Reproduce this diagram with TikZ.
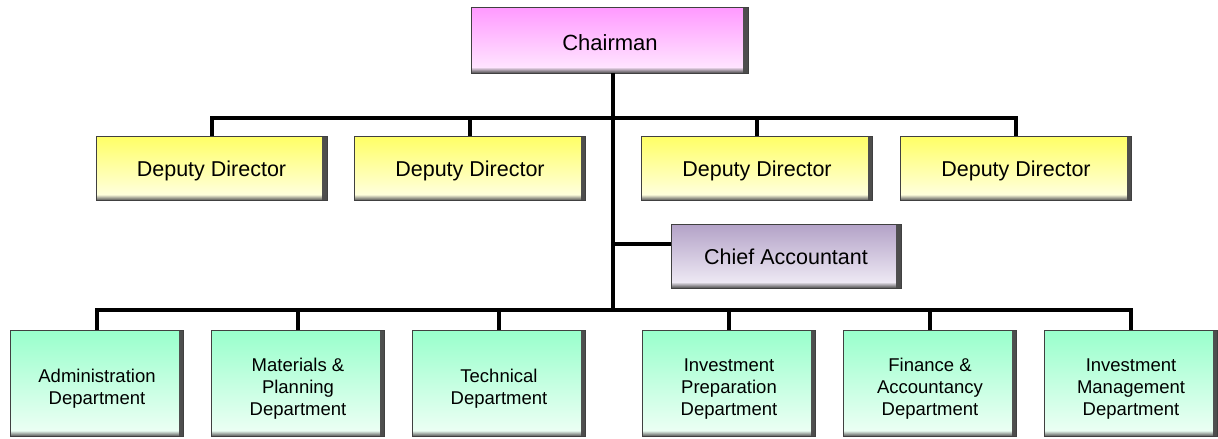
\documentclass[tikz,border=0pt]{standalone}
\usepackage{fontspec}
\setmainfont{Liberation Sans}
\usetikzlibrary{calc,fadings}

% soft dark bands along the right and bottom edges of each box
\tikzfading[name=edgeright, left color=transparent!100, right color=transparent!0]
\tikzfading[name=edgebottom, top color=transparent!100, bottom color=transparent!0]

\definecolor{chairtop}{HTML}{FF99FF}
\definecolor{chairbot}{HTML}{FFEBFF}
\definecolor{deptop}{HTML}{FFFF66}
\definecolor{depbot}{HTML}{FFFFE8}
\definecolor{acctop}{HTML}{B3A2C7}
\definecolor{accbot}{HTML}{F3EFF8}
\definecolor{unittop}{HTML}{99FFCC}
\definecolor{unitbot}{HTML}{F0FFF6}

% invisible strut that lowers a multi-line label a little
\newcommand{\firstlinegap}{\rule{0pt}{24pt}}

\tikzset{
  orgbox/.style={draw=black!75, line width=0.9pt, align=center, inner sep=0pt,
    text=black,
    path picture={
      \fill[black!70, path fading=edgeright]
        ($(path picture bounding box.south east)+(-5pt,0pt)$)
        rectangle (path picture bounding box.north east);
      \fill[black!70, path fading=edgebottom]
        (path picture bounding box.south west)
        rectangle ($(path picture bounding box.south east)+(0pt,6pt)$);
    }},
  % a tall invisible strut on the first line lowers the text block a little
  lowertext/.style={execute at begin node={\rule{0pt}{#1}}},
  chairbox/.style={orgbox, minimum width=277pt, minimum height=66pt,
    top color=chairtop, bottom color=chairbot,
    font=\fontsize{22}{26}\selectfont, lowertext=22pt},
  deputybox/.style={orgbox, minimum width=231pt, minimum height=64pt,
    top color=deptop, bottom color=depbot,
    font=\fontsize{21.5}{25}\selectfont, lowertext=21pt},
  accbox/.style={orgbox, minimum width=230pt, minimum height=64pt,
    top color=acctop, bottom color=accbot,
    font=\fontsize{21.5}{25}\selectfont, lowertext=17pt},
  unitbox/.style={orgbox, minimum width=173pt, minimum height=106pt,
    top color=unittop, bottom color=unitbot,
    font=\fontsize{18.5}{21.7}\selectfont},
  conn/.style={draw=black, line width=4pt, line join=miter}
}

\begin{document}
\begin{tikzpicture}[x=1pt, y=-1pt]
  \useasboundingbox (0,0) rectangle (1218,439);

  % top level
  \node[chairbox] (ch) at (610,40) {Chairman};

  % deputy directors
  \node[deputybox] (d1) at (211.5,168.5) {Deputy Director};
  \node[deputybox] (d2) at (470,168.5) {Deputy Director};
  \node[deputybox] (d3) at (757,168.5) {Deputy Director};
  \node[deputybox] (d4) at (1016,168.5) {Deputy Director};

  % chief accountant
  \node[accbox] (ca) at (786,256) {Chief Accountant};

  % departments
  \node[unitbox] (u1) at (97,383.5) {\firstlinegap Administration\\Department};
  \node[unitbox] (u2) at (298,383.5) {\firstlinegap Materials \&\\Planning\\Department};
  \node[unitbox] (u3) at (499,383.5) {\firstlinegap Technical\\Department};
  \node[unitbox] (u4) at (729,383.5) {\firstlinegap Investment\\Preparation\\Department};
  \node[unitbox] (u5) at (930,383.5) {\firstlinegap Finance \&\\Accountancy\\Department};
  \node[unitbox] (u6) at (1131,383.5) {\firstlinegap Investment\\Management\\Department};

  % junction points on the trunk
  \coordinate (dbar) at (613,118);
  \coordinate (cb) at (613,244);
  \coordinate (ubar) at (613,310);

  % trunk
  \draw[conn] (ch.south -| ubar) -- (ubar);

  % deputy bar
  \draw[conn] (d1.north) -- (d1.north |- dbar) -- (d4.north |- dbar) -- (d4.north);
  \draw[conn] (d2.north) -- (d2.north |- dbar);
  \draw[conn] (d3.north) -- (d3.north |- dbar);

  % chief accountant branch
  \draw[conn] (cb) -- (cb -| ca.west);

  % department bar
  \draw[conn] (u1.north) -- (u1.north |- ubar) -- (u6.north |- ubar) -- (u6.north);
  \draw[conn] (u2.north) -- (u2.north |- ubar);
  \draw[conn] (u3.north) -- (u3.north |- ubar);
  \draw[conn] (u4.north) -- (u4.north |- ubar);
  \draw[conn] (u5.north) -- (u5.north |- ubar);
\end{tikzpicture}
\end{document}
